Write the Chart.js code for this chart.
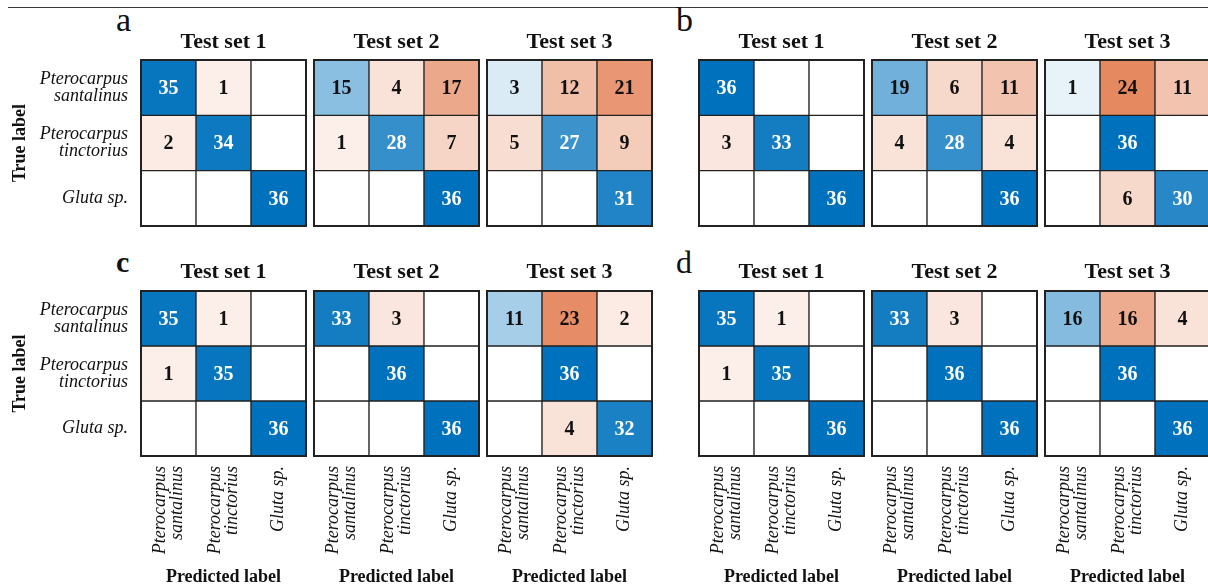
<!DOCTYPE html>
<html>
<head>
<meta charset="utf-8">
<script src="https://cdn.jsdelivr.net/npm/chart.js@4.4.1/dist/chart.umd.min.js"></script>
<style>
  html, body { margin: 0; padding: 0; background: #fff; overflow: hidden; }
  #stage { position: relative; width: 1208px; height: 586px; overflow: hidden;
           font-family: 'Liberation Serif', 'Times New Roman', serif; color: #111; }
  .rule { position: absolute; left: 8px; right: 0; top: 7px; border-top: 1px solid #3a3a3a; }
  .tag { position: absolute; line-height: 1; white-space: nowrap; }
  .box { position: absolute; }
</style>
</head>
<body>
<div id="stage">
  <div class="rule"></div>
  <div class="tag" style="left:116px; top:3px; font-size:34px;">a</div>
  <div class="tag" style="left:676px; top:3px; font-size:34px;">b</div>
  <div class="tag" style="left:116px; top:247px; font-size:30px; font-weight:bold;">c</div>
  <div class="tag" style="left:676px; top:246px; font-size:32px;">d</div>
</div>
<script>
// Class names (rows = true label, columns = predicted label)
const classLabels = [['Pterocarpus', 'santalinus'], ['Pterocarpus', 'tinctorius'], ['Gluta sp.']];
const setTitles = ['Test set 1', 'Test set 2', 'Test set 3'];
const SAMPLES_PER_CLASS = 36;

// Confusion matrices, one per panel and test set
const panelA1 = [[35, 1, 0], [2, 34, 0], [0, 0, 36]];
const panelA2 = [[15, 4, 17], [1, 28, 7], [0, 0, 36]];
const panelA3 = [[3, 12, 21], [5, 27, 9], [0, 0, 31]];

const panelB1 = [[36, 0, 0], [3, 33, 0], [0, 0, 36]];
const panelB2 = [[19, 6, 11], [4, 28, 4], [0, 0, 36]];
const panelB3 = [[1, 24, 11], [0, 36, 0], [0, 6, 30]];

const panelC1 = [[35, 1, 0], [1, 35, 0], [0, 0, 36]];
const panelC2 = [[33, 3, 0], [0, 36, 0], [0, 0, 36]];
const panelC3 = [[11, 23, 2], [0, 36, 0], [0, 4, 32]];

const panelD1 = [[35, 1, 0], [1, 35, 0], [0, 0, 36]];
const panelD2 = [[33, 3, 0], [0, 36, 0], [0, 0, 36]];
const panelD3 = [[16, 16, 4], [0, 36, 0], [0, 0, 36]];

// Page layout
const FONT = "'Liberation Serif', 'Times New Roman', serif";
const colLeft = [[141, 314, 487], [699, 872, 1045]];
const rowTop = [60, 291];
const rowHeight = [166, 165];
const titleCenterY = [42, 272];
const MATRIX_W = 165;
const PAD = 2;
const TITLE_H = 50;
const Y_AXIS_W = 139;
const X_AXIS_H = 128;

const panels = [
  { sets: [panelA1, panelA2, panelA3], gx: 0, gy: 0 },
  { sets: [panelB1, panelB2, panelB3], gx: 1, gy: 0 },
  { sets: [panelC1, panelC2, panelC3], gx: 0, gy: 1 },
  { sets: [panelD1, panelD2, panelD3], gx: 1, gy: 1 }
];

const DIAG_RGB = [0, 114, 189];
const OFF_RGB = [217, 83, 25];

function shade(v, diag) {
  if (v === 0) return [255, 255, 255];
  const t = 0.065 + 0.935 * v / SAMPLES_PER_CLASS;
  const base = diag ? DIAG_RGB : OFF_RGB;
  return base.map(b => Math.round(255 + (b - 255) * t));
}
function cellColor(v, diag) {
  const c = shade(v, diag);
  return `rgb(${c[0]},${c[1]},${c[2]})`;
}
function cellTextColor(v, diag) {
  const c = shade(v, diag);
  const lum = 0.299 * c[0] + 0.587 * c[1] + 0.114 * c[2];
  return lum < 135 ? '#ffffff' : '#111111';
}

// Set title centred over the matrix itself
const matrixTitle = {
  id: 'matrixTitle',
  afterDraw(chart, args, opts) {
    const { ctx, chartArea: a } = chart;
    ctx.save();
    ctx.font = `bold 22px ${FONT}`;
    ctx.fillStyle = '#111';
    ctx.textAlign = 'center';
    ctx.textBaseline = 'middle';
    ctx.fillText(opts.text, (a.left + a.right) / 2, a.top - opts.offset);
    ctx.restore();
  }
};

// Frame around the matrix and the count inside every non-empty cell
const cellText = {
  id: 'cellText',
  afterDatasetsDraw(chart) {
    const { ctx, chartArea: a } = chart;
    ctx.save();
    ctx.strokeStyle = '#222';
    ctx.lineWidth = 2;
    ctx.strokeRect(a.left, a.top, a.right - a.left, a.bottom - a.top);
    ctx.font = `bold 20px ${FONT}`;
    ctx.textAlign = 'center';
    ctx.textBaseline = 'middle';
    chart.data.datasets.forEach((ds, r) => {
      const meta = chart.getDatasetMeta(r);
      meta.data.forEach((bar, c) => {
        const v = ds.counts[c];
        if (!v) return;
        const { x, y, base } = bar.getProps(['x', 'y', 'base'], true);
        ctx.fillStyle = cellTextColor(v, r === c);
        ctx.fillText(String(v), x, (y + base) / 2 + 1);
      });
    });
    ctx.restore();
  }
};

// Vertical predicted-class names under the bottom row of matrices
const predictedNames = {
  id: 'predictedNames',
  afterDraw(chart, args, opts) {
    if (!opts.display) return;
    const { ctx } = chart;
    const s = chart.scales.x;
    ctx.save();
    ctx.font = `italic 18px ${FONT}`;
    ctx.fillStyle = '#111';
    ctx.textAlign = 'right';
    ctx.textBaseline = 'middle';
    classLabels.forEach((lines, i) => {
      const px = s.getPixelForValue(i);
      ctx.save();
      ctx.translate(px, s.top + 10);
      ctx.rotate(-Math.PI / 2);
      lines.forEach((ln, j) => ctx.fillText(ln, 0, (j - (lines.length - 1) / 2) * 17));
      ctx.restore();
    });
    ctx.restore();
  }
};

function makeMatrix(counts, title, mx, my, mh, titleY, showY, showX) {
  const stage = document.getElementById('stage');
  const box = document.createElement('div');
  box.className = 'box';
  const yw = showY ? Y_AXIS_W : 0;
  const xh = showX ? X_AXIS_H : 0;
  box.style.left = (mx - PAD - yw) + 'px';
  box.style.top = (my - TITLE_H) + 'px';
  box.style.width = (PAD + yw + MATRIX_W + PAD) + 'px';
  box.style.height = (TITLE_H + mh + xh + PAD) + 'px';
  const cv = document.createElement('canvas');
  box.appendChild(cv);
  stage.appendChild(box);

  new Chart(cv, {
    type: 'bar',
    data: {
      labels: classLabels.map(l => l.join(' ')),
      datasets: counts.map((rowVals, r) => ({
        label: classLabels[r].join(' '),
        counts: rowVals,
        data: rowVals.map(() => [2 - r, 3 - r]),
        backgroundColor: rowVals.map((v, c) => cellColor(v, r === c)),
        borderColor: '#222',
        borderWidth: 1,
        borderSkipped: false,
        barPercentage: 1,
        categoryPercentage: 1,
        grouped: false
      }))
    },
    options: {
      responsive: true,
      maintainAspectRatio: false,
      animation: false,
      events: [],
      layout: { autoPadding: false, padding: { top: TITLE_H, left: PAD, right: PAD, bottom: PAD } },
      plugins: {
        legend: { display: false },
        tooltip: { enabled: false },
        title: { display: false },
        matrixTitle: { text: title, offset: my - titleY },
        predictedNames: { display: showX }
      },
      scales: {
        x: {
          type: 'category',
          display: showX,
          grid: { display: false, drawTicks: false },
          border: { display: false },
          ticks: { display: false },
          title: {
            display: showX,
            text: 'Predicted label',
            color: '#111',
            font: { family: FONT, size: 18, weight: 'bold' },
            padding: { top: 0, bottom: -4 }
          },
          afterFit(s) { s.height = showX ? X_AXIS_H : 0; }
        },
        y: {
          type: 'linear',
          display: showY,
          min: 0,
          max: 3,
          grid: { display: false, drawTicks: false },
          border: { display: false },
          afterBuildTicks(s) { s.ticks = [0.5, 1.5, 2.5].map(v => ({ value: v })); },
          ticks: {
            padding: 13,
            color: '#111',
            font: { family: FONT, size: 18, style: 'italic', lineHeight: 17 / 18 },
            callback: v => classLabels[2 - Math.floor(v)]
          },
          title: {
            display: showY,
            text: 'True label',
            color: '#111',
            font: { family: FONT, size: 18, weight: 'bold' },
            padding: { top: 8, bottom: 0 }
          },
          afterFit(s) {
            s.width = showY ? Y_AXIS_W : 0;
            s.paddingTop = 0;
            s.paddingBottom = 0;
          }
        }
      }
    },
    plugins: [cellText, matrixTitle, predictedNames]
  });
}

panels.forEach(p => {
  p.sets.forEach((counts, k) => {
    makeMatrix(counts, setTitles[k], colLeft[p.gx][k], rowTop[p.gy], rowHeight[p.gy],
               titleCenterY[p.gy], k === 0 && p.gx === 0, p.gy === 1);
  });
});
</script>
</body>
</html>
